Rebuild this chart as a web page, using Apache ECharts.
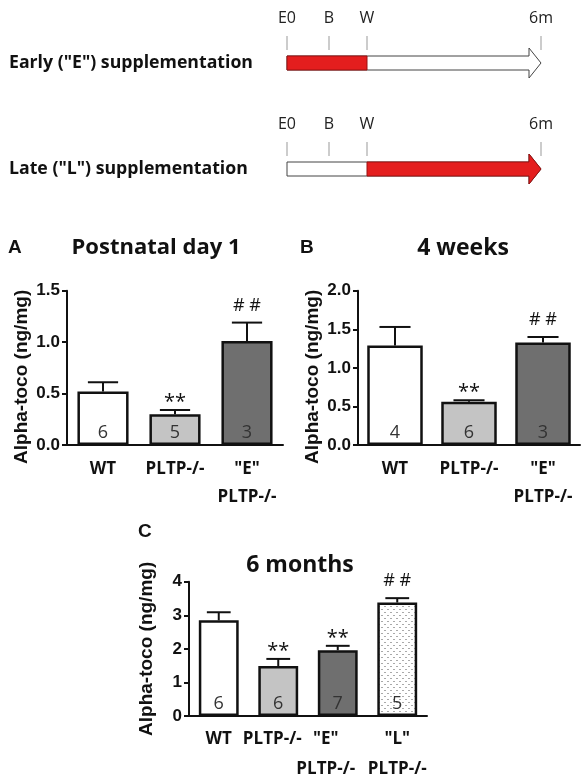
<!DOCTYPE html>
<html><head><meta charset="utf-8">
<script src="https://cdn.jsdelivr.net/npm/echarts@6/dist/echarts.min.js"></script>
<style>html,body{margin:0;padding:0;background:#fff}#c{width:582px;height:784px}</style>
</head><body><div id="c"></div>
<script>
// ---- timeline schematic data ----
const timelineStops = ['E0', 'B', 'W', '6m'];
const timelinePos = [0, 1.05, 2.0, 6.35];
const regimens = ['Early ("E") supplementation', 'Late ("L") supplementation'];
const redFrom = [0, 2.0];
const redTo = [2.0, 6.35];

// ---- panel A: postnatal day 1 ----
const catsA = ['WT', 'PLTP-/-', '"E"\nPLTP-/-'];
const meanA = [0.52, 0.30, 1.01];
const semA = [0.09, 0.04, 0.18];
const nA = ['6', '5', '3'];
const sigA = ['', '**', '# #'];
const ticksA = ['0.0', '0.5', '1.0', '1.5'];

// ---- panel B: 4 weeks ----
const catsB = ['WT', 'PLTP-/-', '"E"\nPLTP-/-'];
const meanB = [1.29, 0.56, 1.33];
const semB = [0.24, 0.02, 0.07];
const nB = ['4', '6', '3'];
const sigB = ['', '**', '# #'];
const ticksB = ['0.0', '0.5', '1.0', '1.5', '2.0'];

// ---- panel C: 6 months ----
const catsC = ['WT', 'PLTP-/-', '"E"\nPLTP-/-', '"L"\nPLTP-/-'];
const meanC = [2.85, 1.49, 1.96, 3.38];
const semC = [0.24, 0.21, 0.13, 0.13];
const nC = ['6', '6', '7', '5'];
const sigC = ['', '**', '**', '# #'];
const ticksC = ['0', '1', '2', '3', '4'];

const yTitle = 'Alpha-toco (ng/mg)';

// ---- styles ----
function dotPattern() {
  const c = document.createElement('canvas');
  c.width = 6; c.height = 6;
  const g = c.getContext('2d');
  g.fillStyle = '#ffffff'; g.fillRect(0, 0, 6, 6);
  g.fillStyle = '#aaaaaa';
  g.fillRect(0, 0, 2, 1); g.fillRect(3, 3, 2, 1);
  return c;
}
const fillsAB = ['#ffffff', '#c4c4c4', '#6f6f6f'];
const fillsC = ['#ffffff', '#c4c4c4', '#6f6f6f', { image: dotPattern(), repeat: 'repeat' }];
const labelShiftC = [0, 12, 24, 0];

const SANS = '"Open Sans", "DejaVu Sans", sans-serif';
const ARIAL = '"Liberation Sans", Arial, sans-serif';
const INK = '#111';

const grids = [
  { left: 287, top: 10, width: 254, height: 212 },
  { left: 67, top: 290.7, width: 216, height: 154.3 },
  { left: 358, top: 290.7, width: 222, height: 154.3 },
  { left: 189, top: 581.7, width: 238, height: 136 }
];

const xAxes = [{ gridIndex: 0, type: 'value', min: 0, max: timelinePos[timelinePos.length - 1], show: false }];
const yAxes = [{
  gridIndex: 0, type: 'category', data: regimens, inverse: true,
  axisLine: { show: false }, axisTick: { show: false },
  axisLabel: { align: 'left', margin: 278, fontFamily: SANS, fontWeight: 'bold', fontSize: 17.7, color: INK }
}];
const series = [{
  type: 'custom', xAxisIndex: 0, yAxisIndex: 0, silent: true,
  data: regimens.map((r, k) => [k, redFrom[k], redTo[k]]),
  renderItem: (params, api) => {
    const row = api.value(0);
    const cy = api.coord([0, row])[1];
    const x0 = api.coord([timelinePos[0], row])[0];
    const xEnd = api.coord([timelinePos[timelinePos.length - 1], row])[0];
    const head = 12, hh = 15, sh = 7;
    const xb = xEnd - head;
    const rf = api.coord([api.value(1), row])[0];
    const rt = api.coord([api.value(2), row])[0];
    const kids = [];
    kids.push({ type: 'polygon', shape: { points: [[x0, cy - sh], [xb, cy - sh], [xb, cy - hh], [xEnd, cy], [xb, cy + hh], [xb, cy + sh], [x0, cy + sh]] },
      style: { fill: '#fff', stroke: '#444', lineWidth: 1 } });
    if (rt >= xEnd - 0.5) {
      kids.push({ type: 'polygon', shape: { points: [[rf, cy - sh], [xb, cy - sh], [xb, cy - hh], [xEnd, cy], [xb, cy + hh], [xb, cy + sh], [rf, cy + sh]] },
        style: { fill: '#e41e1e', stroke: '#9a1010', lineWidth: 1 } });
    } else {
      kids.push({ type: 'rect', shape: { x: rf, y: cy - sh, width: rt - rf, height: 2 * sh },
        style: { fill: '#e41e1e', stroke: '#9a1010', lineWidth: 1 } });
    }
    timelineStops.forEach((s, i) => {
      const x = api.coord([timelinePos[i], row])[0];
      kids.push({ type: 'line', shape: { x1: x, y1: cy - 27, x2: x, y2: cy - 13 }, style: { stroke: '#999', lineWidth: 1 } });
      kids.push({ type: 'text', x: x, y: cy - 45, style: { text: s, align: 'center', verticalAlign: 'middle', font: '16px ' + SANS, fill: '#222' } });
    });
    return { type: 'group', children: kids };
  }
}];

function addPanel(i, cats, means, sems, ns, sigs, ticks, fills, max, interval, opts) {
  xAxes.push({
    gridIndex: i, type: 'category',
    data: cats.map((c, k) => (opts.shift ? { value: c, textStyle: { padding: [0, opts.shift[k], 0, 0] } } : c)),
    axisLine: { lineStyle: { color: INK, width: 2 } },
    axisTick: { alignWithLabel: true, length: 6, lineStyle: { color: INK, width: 2 } },
    axisLabel: { interval: 0, fontFamily: SANS, fontWeight: 'bold', fontSize: 17, color: INK, lineHeight: opts.lh, margin: opts.lm }
  });
  yAxes.push({
    gridIndex: i, type: 'value', min: 0, max: max, interval: interval,
    axisLine: { show: true, lineStyle: { color: INK, width: 2 } },
    axisTick: { show: true, length: 5, lineStyle: { color: INK, width: 2 } },
    splitLine: { show: false },
    axisLabel: { formatter: (v) => ticks[Math.round(v / interval)], fontFamily: ARIAL, fontWeight: 'bold', fontSize: 17, color: INK, margin: 7 },
    name: yTitle, nameLocation: 'middle', nameGap: opts.ng,
    nameTextStyle: { fontFamily: ARIAL, fontWeight: 'bold', fontSize: 19, color: INK, padding: opts.np }
  });
  series.push({
    type: 'bar', xAxisIndex: i, yAxisIndex: i, barWidth: opts.bw, silent: true,
    data: means.map((v, k) => ({ value: v, itemStyle: { color: fills[k], borderColor: INK, borderWidth: 2.5 } })),
    label: { show: true, position: 'insideBottom', distance: 3, formatter: (p) => ns[p.dataIndex],
      fontFamily: SANS, fontSize: 18, color: '#333' }
  });
  series.push({
    type: 'custom', xAxisIndex: i, yAxisIndex: i, silent: true, z: 3,
    data: means.map((v, k) => [k, v, v + sems[k]]),
    renderItem: (params, api) => {
      const k = api.value(0);
      const p0 = api.coord([k, api.value(1)]);
      const p1 = api.coord([k, api.value(2)]);
      const hw = api.size([1, 0])[0] * opts.cap;
      const kids = [
        { type: 'line', shape: { x1: p0[0], y1: p0[1], x2: p1[0], y2: p1[1] }, style: { stroke: INK, lineWidth: 2 } },
        { type: 'line', shape: { x1: p1[0] - hw, y1: p1[1], x2: p1[0] + hw, y2: p1[1] }, style: { stroke: INK, lineWidth: 2 } }
      ];
      const s = sigs[params.dataIndex];
      if (s) {
        const star = s.charAt(0) === '*';
        kids.push({ type: 'text', x: p1[0], y: star ? p1[1] + 2 : p1[1] - 8,
          style: { text: s, align: 'center', verticalAlign: 'bottom', font: (star ? '20px ' : '18px ') + SANS, fill: INK } });
      }
      return { type: 'group', children: kids };
    }
  });
}

addPanel(1, catsA, meanA, semA, nA, sigA, ticksA, fillsAB, 1.5, 0.5, { bw: '71%', cap: 0.21, lh: 28, lm: 10, ng: 36, np: [0, 18, 0, 0] });
addPanel(2, catsB, meanB, semB, nB, sigB, ticksB, fillsAB, 2.0, 0.5, { bw: '75%', cap: 0.21, lh: 28, lm: 10, ng: 36, np: [0, 18, 0, 0] });
addPanel(3, catsC, meanC, semC, nC, sigC, ticksC, fillsC, 4, 1, { bw: '67%', cap: 0.2, lh: 30, lm: 8, ng: 33, np: [0, 0, 0, 0], shift: labelShiftC });

function txt(t, x, y, font, align) {
  return { type: 'text', x: x, y: y, silent: true, style: { text: t, font: font, align: align, verticalAlign: 'middle', fill: INK } };
}
const graphic = [
  txt('A', 8, 248, 'bold 19px ' + ARIAL, 'left'),
  txt('Postnatal day 1', 156, 248, 'bold 22px ' + SANS, 'center'),
  txt('B', 300, 248, 'bold 19px ' + ARIAL, 'left'),
  txt('4 weeks', 463, 248, 'bold 23px ' + SANS, 'center'),
  txt('C', 138, 532, 'bold 19px ' + ARIAL, 'left'),
  txt('6 months', 300, 565, 'bold 23px ' + SANS, 'center')
];

const chart = echarts.init(document.getElementById('c'), null, { renderer: 'canvas', width: 582, height: 784 });
chart.setOption({
  animation: false,
  backgroundColor: '#fff',
  grid: grids,
  xAxis: xAxes,
  yAxis: yAxes,
  series: series,
  graphic: graphic
});
</script></body></html>
